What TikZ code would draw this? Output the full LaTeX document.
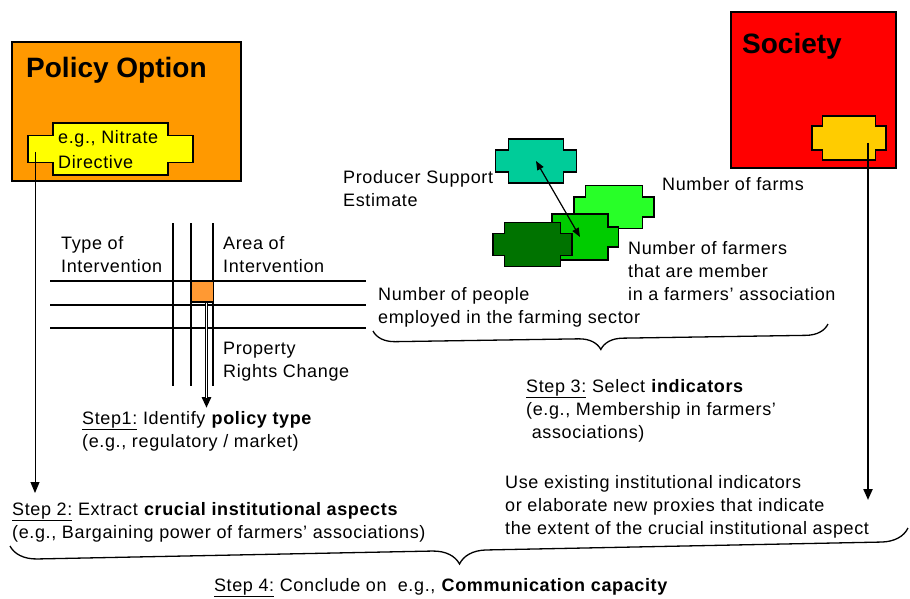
\documentclass[tikz,border=0pt]{standalone}
\usepackage{fontspec}
\setmainfont{Liberation Sans}
\usetikzlibrary{arrows.meta,decorations.pathreplacing}

\definecolor{optionorange}{RGB}{255,153,0}
\definecolor{optionyellow}{RGB}{255,255,0}
\definecolor{societyred}{RGB}{255,0,0}
\definecolor{societygold}{RGB}{255,204,0}
\definecolor{pseteal}{RGB}{0,204,153}
\definecolor{farmgreen}{RGB}{40,255,40}
\definecolor{membergreen}{RGB}{0,204,0}
\definecolor{peoplegreen}{RGB}{0,115,0}
\definecolor{crossorange}{RGB}{255,153,51}

% multi-line texts are placed by the baseline of their last line
\tikzset{
    plaintext/.style={font=\fontsize{18}{23}\selectfont\addfontfeature{LetterSpace=3.5}, align=left, inner sep=0pt, anchor=base west},
    titletext/.style={font=\fontsize{28}{32}\selectfont\bfseries, inner sep=0pt, anchor=base west},
    bigbox/.style={draw=black, line width=1.3pt},
    platebase/.style={draw=black, line width=1.1pt},
    gridline/.style={line width=1.4pt},
    thinarrow/.style={-{Triangle[width=9pt,length=11pt]}, line width=0.9pt},
    heavyarrow/.style={-{Triangle[width=9pt,length=11pt]}, line width=2.2pt},
    hollowshaft/.style={white, line width=0.9pt, shorten >=10pt},
    bothway/.style={{Triangle[width=7pt,length=9pt]}-{Triangle[width=7pt,length=9pt]}, line width=1.2pt},
    curly/.style={decorate, decoration={brace, mirror, amplitude=#1}, line width=1.3pt},
}

% cross shaped plate: name, centre x, centre y, half width of band, half width of body,
% half height of band, half height of body, fill colour
\newcommand{\plate}[8]{%
    \filldraw[platebase, fill=#8]
        ({#2-#5},{#3-#7}) -- ({#2+#5},{#3-#7}) -- ({#2+#5},{#3-#6}) -- ({#2+#4},{#3-#6})
        -- ({#2+#4},{#3+#6}) -- ({#2+#5},{#3+#6}) -- ({#2+#5},{#3+#7}) -- ({#2-#5},{#3+#7})
        -- ({#2-#5},{#3+#6}) -- ({#2-#4},{#3+#6}) -- ({#2-#4},{#3-#6}) -- ({#2-#5},{#3-#6}) -- cycle;
    \node[inner sep=0pt, minimum width=2*#5pt, minimum height=2*#7pt] (#1) at (#2,#3) {};
}

\begin{document}
\begin{tikzpicture}[x=1pt, y=-1pt]
    \useasboundingbox (0,0) rectangle (910,599);

    % policy option
    \draw[bigbox, fill=optionorange] (12,42) rectangle (241,181);
    \node[titletext] (policy) at (26,78) {Policy Option};
    \plate{nitrate}{110.5}{149}{82.5}{57.5}{13.5}{26}{optionyellow}
    \node[plaintext] (nitratetext) at (58,168) {e.g., Nitrate\\[2pt]Directive};

    % society
    \draw[bigbox, fill=societyred] (731,12) rectangle (896,168);
    \node[titletext] (society) at (742,54) {Society};
    \plate{societyplate}{849}{138}{37}{26.5}{12}{22}{societygold}

    % policy grid
    \foreach \y in {281,305,328}
        \draw[gridline] (50,\y) -- (366,\y);
    \foreach \x in {173,191,213}
        \draw[gridline] (\x,223) -- (\x,386);
    \node[draw=black, line width=1.3pt, fill=crossorange, inner sep=0pt,
          minimum width=22pt, minimum height=21pt] (crossing) at (202.5,291.5) {};
    \node[plaintext] (typeint) at (61,272) {Type of\\Intervention};
    \node[plaintext] (areaint) at (223,272) {Area of\\Intervention};
    \node[plaintext] (rights) at (223,377) {Property\\Rights Change};
    \node[plaintext] (stepone) at (82,447) {\underline{Step1:} Identify \textbf{policy type}\\(e.g., regulatory / market)};

    % indicators
    \plate{farms}{614}{207}{40}{28.5}{10}{21.5}{farmgreen}
    \plate{members}{580}{237}{38.5}{28}{10}{23}{membergreen}
    \plate{people}{532.5}{244.5}{39.5}{28}{11}{22}{peoplegreen}
    \plate{pse}{536}{161}{40.5}{27.5}{11}{22}{pseteal}
    \draw[bothway] (pse.center) -- (members.center);
    \node[plaintext] (psetext) at (343,206) {Producer Support\\Estimate};
    \node[plaintext] (farmstext) at (662,190) {Number of farms};
    \node[plaintext] (memberstext) at (628,300) {Number of farmers\\that are member\\in a farmers' association};
    \node[plaintext] (peopletext) at (378,323) {Number of people\\employed in the farming sector};
    \coordinate (indleft) at (373,331);
    \coordinate (indright) at (828,324);
    \draw[curly=22pt] (indleft) -- (indright);
    \node[plaintext] (stepthree) at (526,438) {\underline{Step 3:} Select \textbf{indicators}\\(e.g., Membership in farmers'\\\ associations)};

    % proxies and institutional aspects
    \node[plaintext] (proxies) at (505,534) {Use existing institutional indicators\\or elaborate new proxies that indicate\\the extent of the crucial institutional aspect};
    \node[plaintext] (steptwo) at (12,538) {\underline{Step 2:} Extract \textbf{crucial institutional aspects}\\(e.g., Bargaining power of farmers' associations)};

    % arrows down from the boxes
    \coordinate (nitratepin) at (35,152);
    \coordinate (nitrateend) at (35,493);
    \draw[thinarrow] (nitratepin) -- (nitrateend);
    \coordinate (societypin) at (868,143);
    \coordinate (societyend) at (868,500);
    \draw[heavyarrow] (societypin) -- (societyend);
    \coordinate (crossingend) at (206.5,408);
    \draw[heavyarrow, line width=3.2pt] (crossing.south -| crossingend) -- (crossingend);
    \draw[hollowshaft] (crossing.south -| crossingend) -- (crossingend);

    % conclusion
    \coordinate (allleft) at (10,546);
    \coordinate (allright) at (908,528);
    \draw[curly=27pt] (allleft) -- (allright);
    \node[plaintext, anchor=base] (stepfour) at (441,591) {\underline{Step 4:} Conclude on \ e.g., \textbf{Communication capacity}};
\end{tikzpicture}
\end{document}
